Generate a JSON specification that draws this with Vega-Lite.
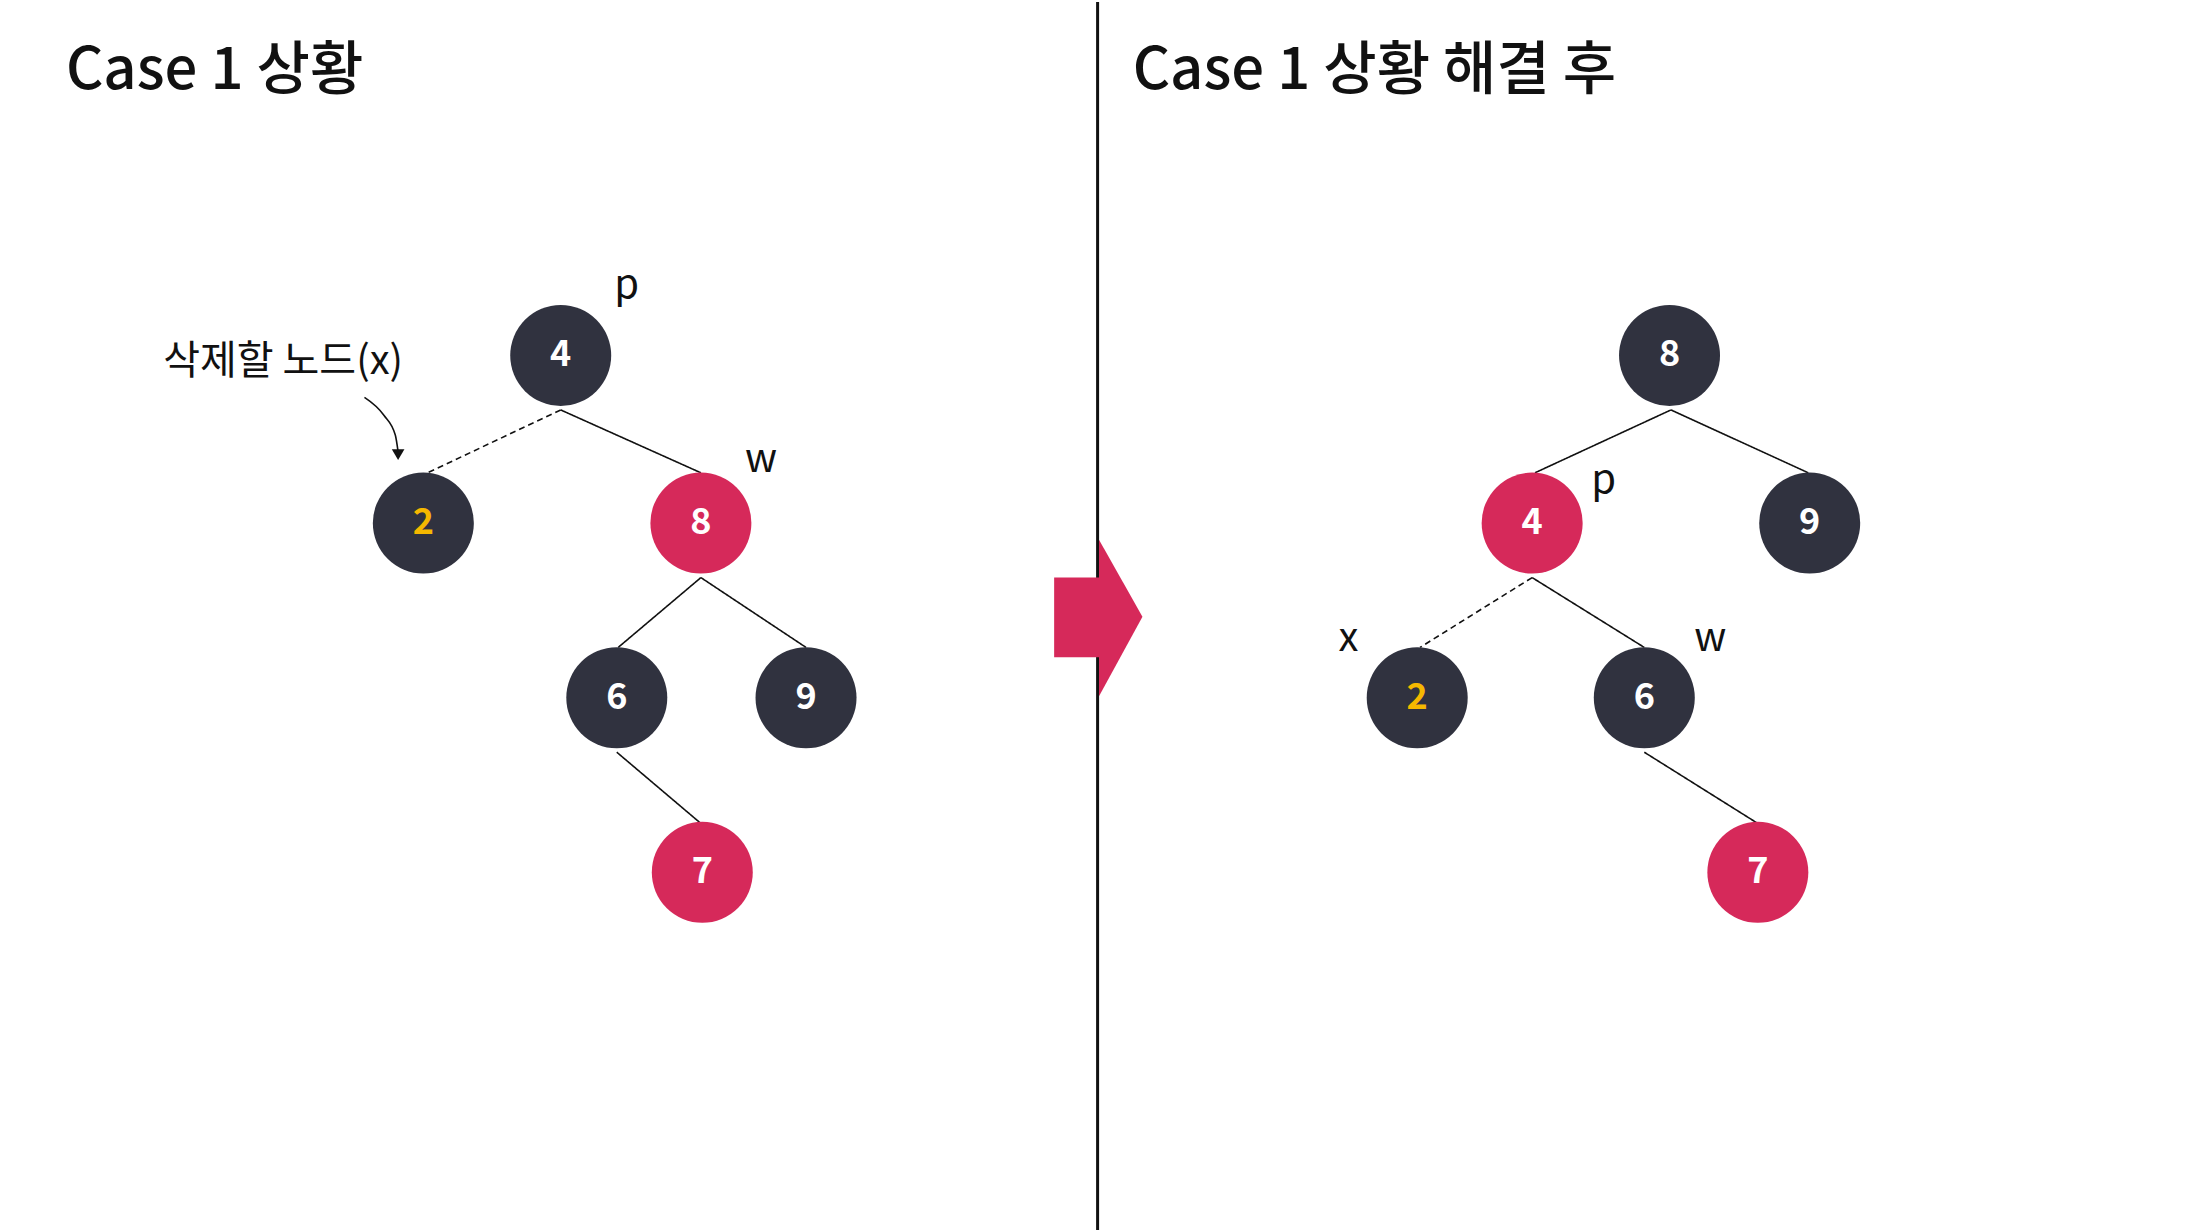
{
  "$schema": "https://vega.github.io/schema/vega-lite/v6.json",
  "width": 2198,
  "height": 1232,
  "autosize": {"type": "fit", "contains": "padding"},
  "padding": 0,
  "background": "white",
  "config": {"view": {"stroke": null}, "font": "Noto Sans CJK KR"},
  "encoding": {
    "x": {"type": "quantitative", "scale": {"domain": [0, 1568], "nice": false, "zero": false}, "axis": null},
    "y": {"type": "quantitative", "scale": {"domain": [879, 0], "nice": false, "zero": false}, "axis": null}
  },
  "layer": [
    {
      "data": {"values": [{"x": 783, "y": 0, "y2": 879}]},
      "mark": {"type": "rule", "color": "#111111", "strokeWidth": 3},
      "encoding": {"x": {"field": "x", "type": "quantitative"}, "y": {"field": "y", "type": "quantitative"}, "y2": {"field": "y2"}}
    },
    {
      "data": {"values": [{"x": 752, "x2": 785, "y": 412, "y2": 469}]},
      "mark": {"type": "rect", "color": "#d6295a"},
      "encoding": {"x": {"field": "x", "type": "quantitative"}, "x2": {"field": "x2"}, "y": {"field": "y", "type": "quantitative"}, "y2": {"field": "y2"}}
    },
    {
      "data": {"values": [{"x": 784, "y": 385, "y2": 497}, {"x": 815, "y": 440, "y2": 440}]},
      "mark": {"type": "area", "color": "#d6295a", "orient": "vertical"},
      "encoding": {"x": {"field": "x", "type": "quantitative"}, "y": {"field": "y", "type": "quantitative"}, "y2": {"field": "y2"}}
    },
    {
      "data": {"values": [
        {"x": 400, "y": 292, "x2": 305, "y2": 337, "dash": "d"},
        {"x": 400, "y": 292, "x2": 500, "y2": 337, "dash": "s"},
        {"x": 500, "y": 412, "x2": 441, "y2": 462, "dash": "s"},
        {"x": 500, "y": 412, "x2": 575, "y2": 462, "dash": "s"},
        {"x": 440, "y": 537, "x2": 500, "y2": 588, "dash": "s"},
        {"x": 1192, "y": 292, "x2": 1095, "y2": 337, "dash": "s"},
        {"x": 1192, "y": 292, "x2": 1290, "y2": 337, "dash": "s"},
        {"x": 1093, "y": 412, "x2": 1013, "y2": 462, "dash": "d"},
        {"x": 1093, "y": 412, "x2": 1173, "y2": 462, "dash": "s"},
        {"x": 1173, "y": 537, "x2": 1254, "y2": 588, "dash": "s"}
      ]},
      "mark": {"type": "rule", "color": "#111111", "strokeWidth": 1.6},
      "encoding": {
        "x": {"field": "x", "type": "quantitative"}, "y": {"field": "y", "type": "quantitative"},
        "x2": {"field": "x2"}, "y2": {"field": "y2"},
        "strokeDash": {"field": "dash", "type": "nominal", "scale": {"domain": ["s", "d"], "range": [[1, 0], [6, 4]]}, "legend": null}
      }
    },
    {
      "data": {"values": [{"x": 260, "y": 283, "o": 1}, {"x": 274, "y": 296, "o": 2}, {"x": 282, "y": 310, "o": 3}, {"x": 284, "y": 322, "o": 4}]},
      "mark": {"type": "line", "color": "#111111", "strokeWidth": 1.6, "interpolate": "monotone"},
      "encoding": {"x": {"field": "x", "type": "quantitative"}, "y": {"field": "y", "type": "quantitative"}, "order": {"field": "o"}}
    },
    {
      "data": {"values": [{"x": 284, "y": 324}]},
      "mark": {"type": "point", "shape": "triangle-down", "filled": true, "color": "#111111", "size": 160, "opacity": 1},
      "encoding": {"x": {"field": "x", "type": "quantitative"}, "y": {"field": "y", "type": "quantitative"}}
    },
    {
      "data": {"values": [
        {"x": 400, "y": 253, "k": "4", "c": "b", "t": "w"},
        {"x": 302, "y": 373, "k": "2", "c": "b", "t": "g"},
        {"x": 500, "y": 373, "k": "8", "c": "r", "t": "w"},
        {"x": 440, "y": 498, "k": "6", "c": "b", "t": "w"},
        {"x": 575, "y": 498, "k": "9", "c": "b", "t": "w"},
        {"x": 501, "y": 623, "k": "7", "c": "r", "t": "w"},
        {"x": 1191, "y": 253, "k": "8", "c": "b", "t": "w"},
        {"x": 1093, "y": 373, "k": "4", "c": "r", "t": "w"},
        {"x": 1291, "y": 373, "k": "9", "c": "b", "t": "w"},
        {"x": 1011, "y": 498, "k": "2", "c": "b", "t": "g"},
        {"x": 1173, "y": 498, "k": "6", "c": "b", "t": "w"},
        {"x": 1254, "y": 623, "k": "7", "c": "r", "t": "w"}
      ]},
      "layer": [
        {
          "mark": {"type": "point", "shape": "circle", "filled": true, "opacity": 1, "size": 10200},
          "encoding": {
            "x": {"field": "x", "type": "quantitative"}, "y": {"field": "y", "type": "quantitative"},
            "color": {"field": "c", "type": "nominal", "scale": {"domain": ["b", "r"], "range": ["#30323f", "#d6295a"]}, "legend": null}
          }
        },
        {
          "mark": {"type": "text", "fontSize": 36, "fontWeight": "bold", "baseline": "middle", "align": "center"},
          "encoding": {
            "x": {"field": "x", "type": "quantitative"}, "y": {"field": "y", "type": "quantitative"},
            "text": {"field": "k"},
            "fill": {"field": "t", "type": "nominal", "scale": {"domain": ["w", "g"], "range": ["#ffffff", "#f5b800"]}, "legend": null}
          }
        }
      ]
    },
    {
      "data": {"values": [
        {"x": 447, "y": 203, "t": "p"},
        {"x": 543, "y": 328, "t": "w"},
        {"x": 1144, "y": 343, "t": "p"},
        {"x": 962, "y": 456, "t": "x"},
        {"x": 1220, "y": 456, "t": "w"},
        {"x": 202, "y": 258, "t": "삭제할 노드(x)"}
      ]},
      "mark": {"type": "text", "fontSize": 40, "color": "#111111", "baseline": "middle", "align": "center"},
      "encoding": {"x": {"field": "x", "type": "quantitative"}, "y": {"field": "y", "type": "quantitative"}, "text": {"field": "t"}}
    },
    {
      "data": {"values": [
        {"x": 47, "y": 50, "t": "Case 1 상황"},
        {"x": 808, "y": 50, "t": "Case 1 상황 해결 후"}
      ]},
      "mark": {"type": "text", "fontSize": 58, "fontWeight": 500, "color": "#111111", "baseline": "middle", "align": "left"},
      "encoding": {"x": {"field": "x", "type": "quantitative"}, "y": {"field": "y", "type": "quantitative"}, "text": {"field": "t"}}
    }
  ]
}
